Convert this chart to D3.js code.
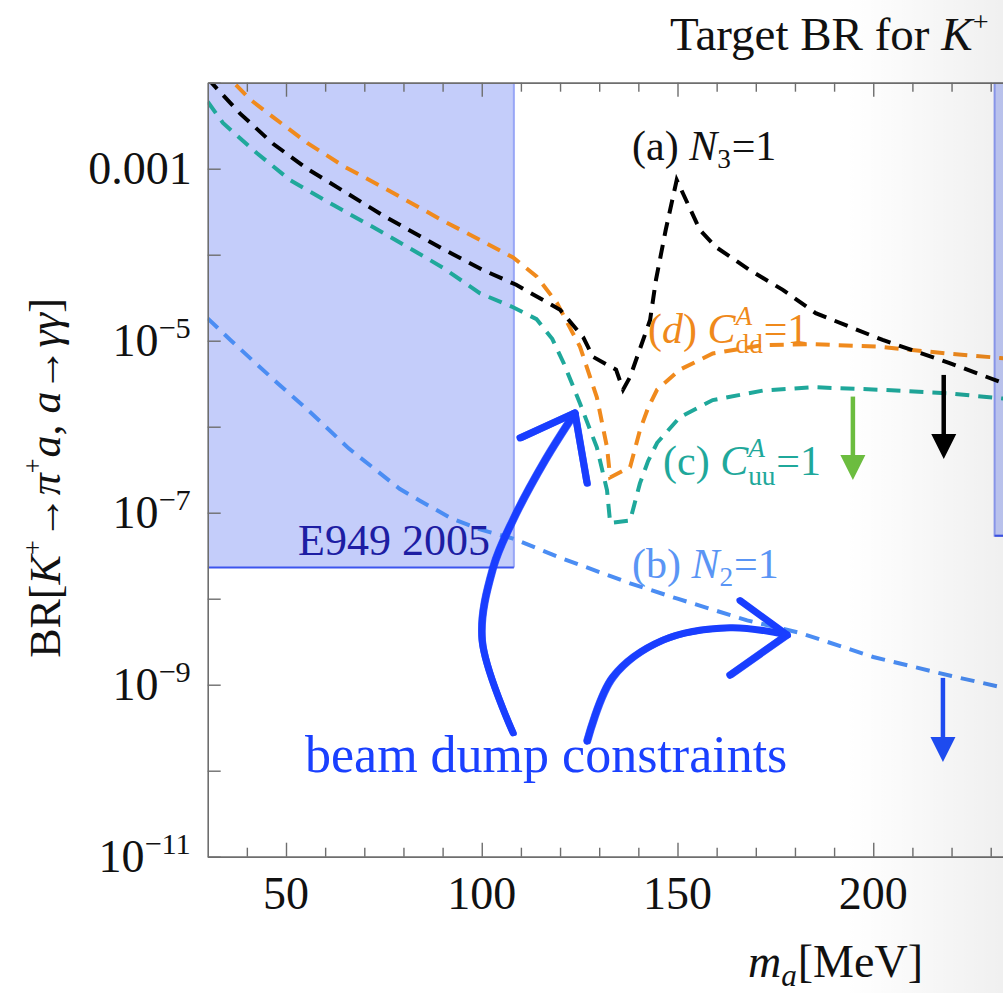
<!DOCTYPE html>
<html><head><meta charset="utf-8">
<script src="https://cdn.jsdelivr.net/npm/d3@7"></script>
<style>
body{margin:0;background:#fff}
svg{display:block}
text{font-family:"Liberation Serif","Times New Roman",serif;white-space:pre}
</style>
</head><body>
<svg id="chart" width="1003" height="993"></svg>
<script>
// ---------------- data ----------------
const massA = [30, 30.8, 38.3, 46.7, 55.4, 75, 90, 100.4, 108.8, 120, 125.9, 128.4, 134.3, 136.1, 137.9, 143, 144.5, 147, 149.8, 155.7, 159.8, 168.5, 176.9, 185.3, 202.4, 219.5, 233, 240];
const brA   = [1.12e-2, 1.02e-2, 4.37e-3, 1.95e-3, 1.0e-3, 2.82e-4, 1.17e-4, 6.6e-5, 4.47e-5, 2.29e-5, 1.1e-5, 6.5e-6, 4.6e-6, 2.7e-6, 3.8e-6, 1.74e-5, 5.1e-5, 1.95e-4, 7.4e-4, 1.95e-4, 1.23e-4, 6.6e-5, 3.9e-5, 2.09e-5, 1.02e-5, 5.5e-6, 3.24e-6, 2.5e-6];

const massB = [30, 36, 42, 48, 55, 66, 79, 84.2, 92, 100, 108, 120, 137.9, 150, 167.8, 181.3, 200, 220, 233, 240];
const brB   = [1.82e-5, 1.0e-5, 5.6e-6, 3.16e-6, 1.66e-6, 5.6e-7, 1.9e-7, 1.38e-7, 8.7e-8, 6.3e-8, 5.0e-8, 3.0e-8, 1.51e-8, 1.0e-8, 5.6e-9, 4.0e-9, 2.1e-9, 1.26e-9, 9.3e-10, 7.9e-10];

const massC = [30, 33.9, 42.6, 51, 62, 75, 90, 99.6, 108, 114, 118, 121, 125.1, 129.4, 132, 132.8, 137.9, 140.4, 142.5, 144.8, 150.6, 159, 171.8, 184.6, 201.7, 218.8, 232.4, 240];
const brC   = [6.0e-3, 3.4e-3, 1.51e-3, 7.4e-4, 3.8e-4, 1.78e-4, 7.1e-5, 3.55e-5, 2.45e-5, 1.78e-5, 1.05e-5, 5.4e-6, 1.86e-6, 5.75e-7, 1.82e-7, 7.6e-8, 8.1e-8, 2.19e-7, 4.0e-7, 6.5e-7, 1.29e-6, 2.04e-6, 2.63e-6, 2.88e-6, 2.69e-6, 2.45e-6, 2.14e-6, 2.0e-6];

const massD = [30, 36.5, 41, 46.7, 55.4, 65, 75, 90, 99.6, 108, 114, 119.2, 125.1, 129.4, 132, 132.8, 137.9, 140.4, 142.5, 144.8, 150.6, 159, 171.8, 184.6, 201.7, 218.8, 232.4, 240];
const brD   = [2.5e-2, 1.02e-2, 6.3e-3, 3.98e-3, 2.0e-3, 1.05e-3, 6.0e-4, 2.5e-4, 1.48e-4, 9.3e-5, 5.6e-5, 2.75e-5, 8.5e-6, 2.2e-6, 5.75e-7, 2.57e-7, 3.4e-7, 9.1e-7, 1.66e-6, 2.7e-6, 4.6e-6, 7.1e-6, 8.9e-6, 9.1e-6, 8.5e-6, 7.1e-6, 6.3e-6, 5.9e-6];

// excluded regions
const e949Mass = [30, 108.2];
const e949Limit = 2.3e-8;
const rightBoxMass = [231, 245];
const rightBoxLimit = 5.4e-8;

// down arrows: mass, from BR, to BR
const arrowMass = [194.8, 218.0, 217.8];
const arrowFrom = [2.24e-6, 4.0e-6, 1.2e-9];
const arrowTo   = [2.4e-7, 4.2e-7, 1.26e-10];

// hand-drawn "beam dump" arrows (mass, BR)
const bdArrow1Mass = [108.0, 100.1, 102.9, 108.0, 116.2, 123.8];
const bdArrow1BR   = [2.75e-10, 3.3e-9, 2.3e-8, 8.3e-8, 4.1e-7, 1.45e-6];
const bdArrow1WingMass = [109.8, 123.8, 126.9];
const bdArrow1WingBR   = [7.4e-7, 1.45e-6, 2.2e-7];
const bdArrow2Mass = [126.9, 133.5, 146.3, 163.4, 178.0];
const bdArrow2BR   = [2.2e-10, 1.23e-9, 3.3e-9, 4.6e-9, 3.8e-9];
const bdArrow2WingMass = [166.0, 178.0, 163.4];
const bdArrow2WingBR   = [9.5e-9, 3.8e-9, 1.29e-9];

// ticks
const xMajorTicks = [50, 100, 150, 200];
const xMinorTicks = [40, 60, 70, 80, 90, 110, 120, 130, 140, 160, 170, 180, 190, 210, 220, 230];
const yAllTicks = [1e-2, 1e-3, 1e-4, 1e-5, 1e-6, 1e-7, 1e-8, 1e-9, 1e-10, 1e-11];
const yLabelTicks = [1e-3, 1e-5, 1e-7, 1e-9, 1e-11];
const yLabelBase = ["0.001", "10", "10", "10", "10"];
const yLabelExp  = ["", "\u22125", "\u22127", "\u22129", "\u221211"];

// ---------------- drawing ----------------
const svg = d3.select("#chart");
const W = 1003, H = 993;
const x = d3.scaleLinear().domain([30, 240]).range([207.7, 207.7 + 210 * 3.915]);
const y = d3.scaleLog().domain([1e-11, 1e-2]).range([856.7, 82.7]);
const X0 = x(30), X1 = x(240), Y0 = y(1e-11), Y1 = y(1e-2);

const defs = svg.append("defs");
defs.append("clipPath").attr("id", "plotclip").append("rect")
  .attr("x", X0).attr("y", Y1).attr("width", X1 - X0).attr("height", Y0 - Y1);
const grad = defs.append("linearGradient").attr("id", "fade").attr("x1", "0").attr("x2", "1").attr("y1", "0").attr("y2", "0");
grad.append("stop").attr("offset", "0").attr("stop-color", "#000").attr("stop-opacity", 0);
grad.append("stop").attr("offset", "1").attr("stop-color", "#000").attr("stop-opacity", 0.06);

svg.append("rect").attr("width", W).attr("height", H).attr("fill", "#fff");

const plot = svg.append("g").attr("clip-path", "url(#plotclip)");

// E949 region
plot.append("rect")
  .attr("x", x(e949Mass[0])).attr("y", Y1)
  .attr("width", x(e949Mass[1]) - x(e949Mass[0]))
  .attr("height", y(e949Limit) - Y1)
  .attr("fill", "#c4cdfa");
plot.append("line").attr("x1", x(e949Mass[1])).attr("x2", x(e949Mass[1]))
  .attr("y1", Y1).attr("y2", y(e949Limit)).attr("stroke", "#98a6f6").attr("stroke-width", 2);
plot.append("line").attr("x1", x(e949Mass[0])).attr("x2", x(e949Mass[1]))
  .attr("y1", y(e949Limit)).attr("y2", y(e949Limit)).attr("stroke", "#3d55ee").attr("stroke-width", 2);

// right region
plot.append("rect")
  .attr("x", x(rightBoxMass[0])).attr("y", Y1)
  .attr("width", x(rightBoxMass[1]) - x(rightBoxMass[0]))
  .attr("height", y(rightBoxLimit) - Y1)
  .attr("fill", "#c4cdfa").attr("stroke", "#8f9df5").attr("stroke-width", 2);
plot.append("line").attr("x1", x(rightBoxMass[0])).attr("x2", x(rightBoxMass[1]))
  .attr("y1", y(rightBoxLimit)).attr("y2", y(rightBoxLimit)).attr("stroke", "#3d55ee").attr("stroke-width", 2);

// axes
const axisColor = "#6e6e6e";
function styleAxis(g) {
  g.selectAll("path.domain").attr("stroke", axisColor).attr("stroke-width", 1.6);
  g.selectAll(".tick line").attr("stroke", axisColor).attr("stroke-width", 1.4);
  g.selectAll(".tick text").remove();
}
svg.append("g").attr("transform", `translate(0,${Y0})`)
  .call(d3.axisTop(x).tickValues(xMajorTicks).tickSize(14).tickSizeOuter(0).tickFormat(""))
  .call(styleAxis);
svg.append("g").attr("transform", `translate(0,${Y0})`)
  .call(d3.axisTop(x).tickValues(xMinorTicks).tickSize(9).tickSizeOuter(0).tickFormat(""))
  .call(styleAxis);
svg.append("g").attr("transform", `translate(0,${Y1})`)
  .call(d3.axisBottom(x).tickValues(xMajorTicks).tickSize(14).tickSizeOuter(0).tickFormat(""))
  .call(styleAxis);
svg.append("g").attr("transform", `translate(0,${Y1})`)
  .call(d3.axisBottom(x).tickValues(xMinorTicks).tickSize(9).tickSizeOuter(0).tickFormat(""))
  .call(styleAxis);
svg.append("g").attr("transform", `translate(${X0},0)`)
  .call(d3.axisRight(y).tickValues(yAllTicks).tickSize(13).tickSizeOuter(0).tickFormat(""))
  .call(styleAxis);

// tick labels
const tickFont = 46;
svg.append("g").selectAll("text").data(xMajorTicks).join("text")
  .attr("x", d => x(d)).attr("y", Y0 + 52)
  .attr("text-anchor", "middle").attr("font-size", tickFont).attr("fill", "#111")
  .text(d => d);

function rich(parent, px, py, size, color, segs, anchor) {
  const g = parent.append("g");
  let cx = 0;
  segs.forEach(s => {
    if (s.sup !== undefined || s.sub !== undefined) {
      let w = 0;
      if (s.sup) {
        const t = g.append("text").attr("x", cx).attr("y", -size * (s.supUp || 0.42))
          .attr("font-size", size * (s.scale || 0.68)).attr("font-style", s.supIt ? "italic" : "normal").text(s.sup);
        w = Math.max(w, t.node().getComputedTextLength());
      }
      if (s.sub) {
        const t = g.append("text").attr("x", cx).attr("y", size * (s.subDown || 0.22))
          .attr("font-size", size * (s.scale || 0.68)).attr("font-style", s.subIt ? "italic" : "normal").text(s.sub);
        w = Math.max(w, t.node().getComputedTextLength());
      }
      cx += w + size * 0.02;
    } else {
      const t = g.append("text").attr("x", cx).attr("y", 0).attr("font-size", size)
        .attr("font-style", s.it ? "italic" : "normal").text(s.t);
      cx += t.node().getComputedTextLength();
    }
  });
  g.selectAll("text").attr("fill", color);
  const dx = anchor === "middle" ? -cx / 2 : anchor === "end" ? -cx : 0;
  g.attr("transform", `translate(${px + dx},${py})`);
  return g;
}

yLabelTicks.forEach((v, i) => {
  const segs = [{t: yLabelBase[i]}];
  if (yLabelExp[i]) segs.push({sup: yLabelExp[i], supUp: 0.38, scale: 0.66});
  rich(svg, X0 - 16, y(v) + 15, tickFont, "#111", segs, "end");
});

// curves
const line = d3.line().x(d => x(d[0])).y(d => y(d[1])).curve(d3.curveLinear);
const series = [
  {m: massD, v: brD, c: "#f08a1d"},
  {m: massA, v: brA, c: "#000000"},
  {m: massC, v: brC, c: "#1fa89b"},
  {m: massB, v: brB, c: "#4b8df3"}
];
series.forEach(s => {
  plot.append("path").datum(s.m.map((m, i) => [m, s.v[i]]))
    .attr("d", line).attr("fill", "none").attr("stroke", s.c)
    .attr("stroke-width", 4).attr("stroke-dasharray", "14,9");
});

// labels
const lblSize = 42;
rich(svg, 670, 50, 47, "#111", [{t: "Target BR for "}, {t: "K", it: true}, {sup: "+", supUp: 0.4, scale: 0.6}], "start");
rich(svg, 632, 160, lblSize, "#111", [{t: "(a) "}, {t: "N", it: true}, {sub: "3", subDown: 0.2, scale: 0.65}, {t: "=1"}], "start");
rich(svg, 648, 343, lblSize, "#ef891b", [{t: "("}, {t: "d", it: true}, {t: ") "}, {t: "C", it: true}, {sup: "A", supIt: true, sub: "dd", supUp: 0.42, subDown: 0.24, scale: 0.65}, {t: "=1"}], "start");
rich(svg, 663, 475, lblSize, "#1fa89b", [{t: "(c) "}, {t: "C", it: true}, {sup: "A", supIt: true, sub: "uu", supUp: 0.42, subDown: 0.24, scale: 0.65}, {t: "=1"}], "start");
rich(svg, 632, 578, lblSize, "#5a95f5", [{t: "(b) "}, {t: "N", it: true}, {sub: "2", subDown: 0.2, scale: 0.65}, {t: "=1"}], "start");
svg.append("text").attr("x", 298).attr("y", 555).attr("font-size", 44).attr("fill", "#1d1da3").text("E949 2005");
svg.append("text").attr("x", 305).attr("y", 772).attr("font-size", 52).attr("fill", "#1a40ff").text("beam dump constraints");

// axis titles
rich(svg, 923, 977, 46, "#111", [{t: "m", it: true}, {sub: "a", subIt: true, subDown: 0.2, scale: 0.68}, {t: "[MeV]"}], "end");
const yl = svg.append("g").attr("transform", "translate(60,478) rotate(-90)");
rich(yl, 0, 0, 44, "#111", [
  {t: "BR["}, {t: "K", it: true}, {sup: "+", scale: 0.6, supUp: 0.4}, {t: "\u2192"}, {t: "\u03c0", it: true},
  {sup: "+", scale: 0.6, supUp: 0.4}, {t: "a", it: true}, {t: ", "}, {t: "a", it: true}, {t: "\u2192"},
  {t: "\u03b3\u03b3", it: true}, {t: "]"}
], "middle");

// down arrows
const arrowColors = ["#6cbd3f", "#000000", "#1f4ef8"];
arrowMass.forEach((m, i) => {
  const xa = x(m), ya = y(arrowFrom[i]), yb = y(arrowTo[i]);
  svg.append("line").attr("x1", xa).attr("x2", xa).attr("y1", ya).attr("y2", yb - 20)
    .attr("stroke", arrowColors[i]).attr("stroke-width", 4.5);
  svg.append("path").attr("d", `M${xa - 12.5},${yb - 25}L${xa + 12.5},${yb - 25}L${xa},${yb}Z`)
    .attr("fill", arrowColors[i]);
});

// hand-drawn arrows
const bdColor = "#1a3fff";
const curve = d3.line().x(d => x(d[0])).y(d => y(d[1])).curve(d3.curveCatmullRom.alpha(0.5));
const straight = d3.line().x(d => x(d[0])).y(d => y(d[1]));
function brush(pts, gen, w) {
  [[0, 0, w, 1], [2, 1, w * 0.55, 0.8], [-2, -1, w * 0.5, 0.7]].forEach(([ox, oy, sw, op]) => {
    svg.append("path").datum(pts).attr("d", gen)
      .attr("transform", `translate(${ox},${oy})`)
      .attr("fill", "none").attr("stroke", bdColor).attr("stroke-width", sw)
      .attr("stroke-linecap", "round").attr("stroke-linejoin", "round").attr("opacity", op);
  });
}
brush(bdArrow1Mass.map((m, i) => [m, bdArrow1BR[i]]), curve, 7);
brush(bdArrow1WingMass.map((m, i) => [m, bdArrow1WingBR[i]]), straight, 7);
brush(bdArrow2Mass.map((m, i) => [m, bdArrow2BR[i]]), curve, 7);
brush(bdArrow2WingMass.map((m, i) => [m, bdArrow2WingBR[i]]), straight, 7);

// right-edge fade
svg.append("rect").attr("x", 845).attr("y", 0).attr("width", W - 845).attr("height", H).attr("fill", "url(#fade)");
</script>
</body></html>
